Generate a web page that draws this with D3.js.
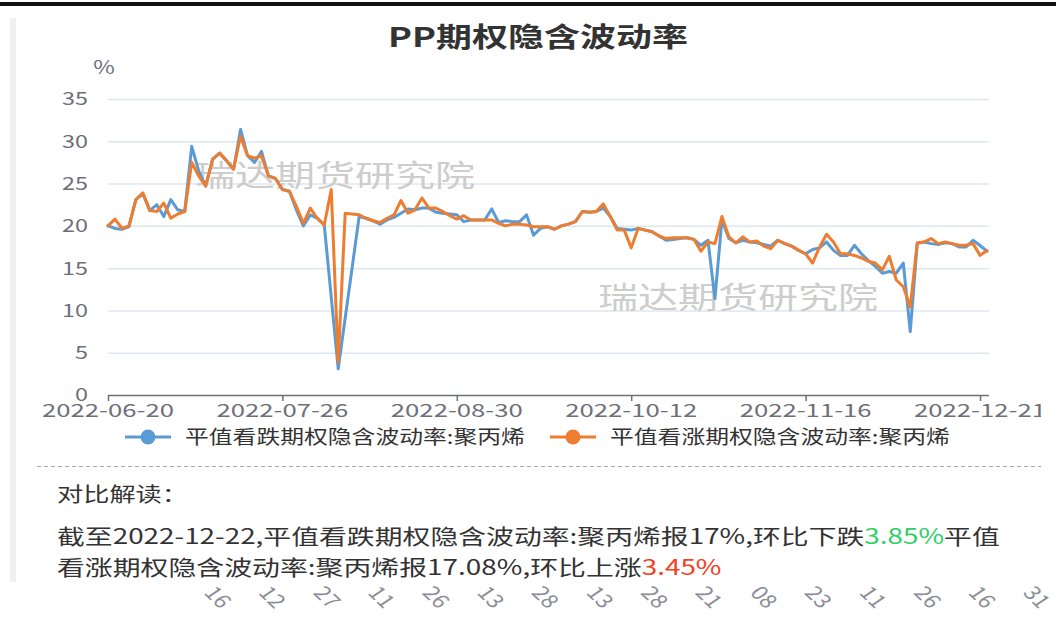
<!DOCTYPE html>
<html>
<head>
<meta charset="utf-8">
<style>
    body { margin: 0; background: #fff; }
    svg { display: block; font-family: "Noto Sans CJK SC", "Noto Sans", sans-serif; }
</style>
</head>
<body>
<svg id="chart" width="1056" height="637"></svg>
<script src="https://cdn.jsdelivr.net/npm/d3@7/dist/d3.min.js"></script>
<script>

var dates = [
    "2022-06-20","2022-06-21","2022-06-22","2022-06-23","2022-06-24","2022-06-27","2022-06-28","2022-06-29","2022-06-30",
    "2022-07-04","2022-07-05","2022-07-06","2022-07-07","2022-07-08","2022-07-11","2022-07-12","2022-07-13","2022-07-14",
    "2022-07-15","2022-07-18","2022-07-19","2022-07-20","2022-07-21","2022-07-22","2022-07-25","2022-07-26","2022-07-27",
    "2022-07-28","2022-07-29","2022-08-01","2022-08-02","2022-08-03","2022-08-04","2022-08-05","2022-08-08","2022-08-09",
    "2022-08-10","2022-08-11","2022-08-12","2022-08-15","2022-08-16","2022-08-17","2022-08-18","2022-08-19","2022-08-22",
    "2022-08-23","2022-08-24","2022-08-25","2022-08-26","2022-08-29","2022-08-30","2022-08-31","2022-09-01","2022-09-02",
    "2022-09-05","2022-09-06","2022-09-07","2022-09-08","2022-09-09","2022-09-13","2022-09-14","2022-09-15","2022-09-16",
    "2022-09-19","2022-09-20","2022-09-21","2022-09-22","2022-09-23","2022-09-26","2022-09-27","2022-09-28","2022-09-29",
    "2022-09-30","2022-10-10","2022-10-11","2022-10-12","2022-10-13","2022-10-14","2022-10-17","2022-10-18","2022-10-19",
    "2022-10-20","2022-10-21","2022-10-24","2022-10-25","2022-10-26","2022-10-27","2022-10-28","2022-10-31","2022-11-01",
    "2022-11-02","2022-11-03","2022-11-04","2022-11-07","2022-11-08","2022-11-09","2022-11-10","2022-11-11","2022-11-14",
    "2022-11-15","2022-11-16","2022-11-17","2022-11-18","2022-11-21","2022-11-22","2022-11-23","2022-11-24","2022-11-25",
    "2022-11-28","2022-11-29","2022-11-30","2022-12-01","2022-12-02","2022-12-05","2022-12-06","2022-12-07","2022-12-08",
    "2022-12-09","2022-12-12","2022-12-13","2022-12-14","2022-12-15","2022-12-16","2022-12-19","2022-12-20","2022-12-21",
    "2022-12-22"
];

// 平值看跌期权隐含波动率:聚丙烯 (null = 缺值, 连线跳过)
var putVol = [
    20.0,19.7,19.6,19.9,23.1,23.8,21.8,22.5,21.1,23.1,
    21.9,21.7,29.4,26.5,24.7,27.9,28.6,27.7,26.7,31.4,
    28.3,27.5,28.8,25.9,25.6,24.3,24.1,21.9,20.0,21.3,
    20.9,20.1,null,3.1,null,null,21.1,20.9,20.6,20.2,
    20.7,21.0,21.5,22.0,21.9,22.1,22.1,21.6,21.5,21.4,
    21.3,20.5,20.7,20.7,20.7,22.0,20.4,20.6,20.5,20.5,
    21.3,18.9,19.7,19.9,19.6,20.0,20.2,20.5,21.7,21.6,
    21.7,22.1,21.1,19.7,19.6,19.5,19.7,19.5,19.3,18.8,
    18.3,18.4,18.5,18.6,18.4,17.7,18.3,11.4,20.7,18.5,
    18.0,18.3,18.1,18.0,17.8,17.6,18.3,17.9,17.6,17.1,
    16.7,17.2,17.4,18.1,17.1,16.5,16.5,17.7,16.7,15.9,
    15.2,14.4,14.6,14.4,15.6,7.5,17.9,18.1,17.9,17.8,
    18.0,17.9,17.5,17.5,18.3,17.68,17.0
];

// 平值看涨期权隐含波动率:聚丙烯
var callVol = [
    20.0,20.8,19.7,20.0,23.1,23.9,21.8,21.7,22.7,20.9,
    21.4,21.7,27.5,25.9,24.7,27.9,28.6,27.7,26.7,30.6,
    28.3,28.0,28.3,25.9,25.6,24.3,24.1,22.3,20.3,22.1,
    20.9,20.1,24.3,3.9,21.5,21.4,21.3,20.9,20.6,20.4,
    20.9,21.3,23.0,21.5,21.9,23.3,22.1,22.1,21.7,21.2,
    20.8,21.2,20.7,20.7,20.7,20.7,20.3,20.0,20.2,20.2,
    20.1,19.9,19.9,19.9,19.6,20.0,20.2,20.5,21.7,21.6,
    21.7,22.6,21.1,19.5,19.5,17.4,19.7,19.5,19.3,18.8,
    18.5,18.6,18.6,18.6,18.4,17.0,18.1,17.9,21.1,18.7,
    18.0,18.7,18.1,18.2,17.6,17.3,18.3,17.9,17.6,17.1,
    16.7,15.6,17.5,19.0,18.1,16.7,16.7,16.5,16.2,15.8,
    15.6,14.8,16.4,13.6,12.8,10.4,18.0,18.1,18.5,17.9,
    18.1,17.9,17.7,17.7,17.9,16.51,17.08
];

var yTicks = [0, 5, 10, 15, 20, 25, 30, 35];
var xTickDates = ["2022-06-20", "2022-07-26", "2022-08-30", "2022-10-12", "2022-11-16", "2022-12-21"];
var seriesNames = ["平值看跌期权隐含波动率:聚丙烯", "平值看涨期权隐含波动率:聚丙烯"];
var seriesColors = ["#5b9bd5", "#ed7d31"];
var strayLabels = ["16","12","27","11","26","13","28","13","28","21","08","23","11","26","16","31"];

var svg = d3.select("#chart");
var grey = "#6e7079";

// text drawn wider than the font, like the reference picture
function wideText(parent, parts, x, y, o) {
    if (typeof parts === "string") parts = [[parts, o.color || "#333"]];
    var t = parent.append("text")
        .attr("text-anchor", o.anchor || "start")
        .attr("font-size", o.size)
        .attr("font-weight", o.weight || "normal")
        .attr("dy", "0.36em");
    parts.forEach(function (p) {
        t.append("tspan").attr("fill", p[1]).text(p[0]);
    });
    var k = o.width ? o.width / t.node().getComputedTextLength() : (o.sx || 1.3);
    t.attr("transform", "translate(" + x + "," + y + ") scale(" + k + ",1)" + (o.rotate ? " rotate(" + o.rotate + ")" : ""));
    return t;
}

var defs = svg.append("defs");
defs.append("clipPath").attr("id", "card").append("rect")
    .attr("x", 0).attr("y", 0).attr("width", 1041).attr("height", 582);
defs.append("clipPath").attr("id", "below").append("rect")
    .attr("x", 0).attr("y", 583).attr("width", 1056).attr("height", 60);

// stray rotated labels of something under the card
var stray = svg.append("g").attr("clip-path", "url(#below)");
strayLabels.forEach(function (s, i) {
    wideText(stray, s, 218 + i * 54.6, 597, {size: 19, color: "#8a8d96", anchor: "middle", sx: 1.25, rotate: 50});
});

// top rule and card edge
svg.append("rect").attr("x", 0).attr("y", 2).attr("width", 1056).attr("height", 4).attr("fill", "#111");
svg.append("rect").attr("x", 10).attr("y", 18).attr("width", 6).attr("height", 564).attr("fill", "#f0f0f0");

var g = svg.append("g").attr("clip-path", "url(#card)");

var x = d3.scalePoint().domain(dates).range([108, 987]);
var y = d3.scaleLinear().domain([0, 35]).range([395, 99]);

// grid
g.append("g").selectAll("line").data(yTicks.slice(1)).enter().append("line")
    .attr("x1", 108).attr("x2", 989)
    .attr("y1", function (d) { return y(d) + 0.5; })
    .attr("y2", function (d) { return y(d) + 0.5; })
    .attr("stroke", "#e0e6f1").attr("stroke-width", 1.5);

// watermarks
wideText(g, "瑞达期货研究院", 335, 175, {size: 30, color: "#c8c8c8", anchor: "middle", width: 280}).attr("opacity", 0.9);
wideText(g, "瑞达期货研究院", 738, 297, {size: 30, color: "#c8c8c8", anchor: "middle", width: 280}).attr("opacity", 0.9);

// x axis
var xAxis = g.append("g").attr("transform", "translate(0," + y(0) + ")")
    .call(d3.axisBottom(x).tickValues(xTickDates).tickSize(6).tickSizeOuter(0).tickFormat(""));
xAxis.select(".domain").attr("stroke", grey).attr("stroke-width", 1.5).attr("d", "M108,0.5H989");
xAxis.selectAll(".tick line").attr("stroke", grey).attr("stroke-width", 1.5);
xTickDates.forEach(function (d) {
    wideText(g, d, x(d), 411, {size: 18, color: grey, anchor: "middle", width: 132});
});

// y labels
var ySx = 1.3;
yTicks.forEach(function (d) {
    wideText(g, String(d), 88, y(d), {size: 18, color: grey, anchor: "end", sx: ySx});
});
wideText(g, "%", 104, 68, {size: 18, color: grey, anchor: "middle", sx: ySx});

// title
wideText(g, "PP期权隐含波动率", 538, 37, {size: 27, weight: "bold", color: "#333", anchor: "middle", width: 300});

// lines
[putVol, callVol].forEach(function (vals, si) {
    var pts = dates.map(function (d, i) { return [d, vals[i]]; })
        .filter(function (p) { return p[1] !== null; });
    g.append("path")
        .datum(pts)
        .attr("fill", "none")
        .attr("stroke", seriesColors[si])
        .attr("stroke-width", 3)
        .attr("stroke-linejoin", "round")
        .attr("stroke-linecap", "round")
        .attr("d", d3.line().x(function (p) { return x(p[0]); }).y(function (p) { return y(p[1]); }));
});

// legend
var legendX = [125, 550];
seriesNames.forEach(function (name, i) {
    var lg = g.append("g").attr("transform", "translate(" + legendX[i] + ",437)");
    lg.append("line").attr("x1", 0).attr("x2", 46).attr("stroke", seriesColors[i]).attr("stroke-width", 3);
    lg.append("circle").attr("cx", 23).attr("r", 7.5).attr("fill", seriesColors[i]);
    wideText(lg, name, 60, 0, {size: 19, color: "#333", width: 340});
});

// divider
g.append("line").attr("x1", 37).attr("x2", 1041).attr("y1", 466.5).attr("y2", 466.5)
    .attr("stroke", "#aaa").attr("stroke-dasharray", "4,3");

// commentary
wideText(g, "对比解读：", 57, 495, {size: 20, color: "#333", width: 131});
wideText(g, [
    ["截至2022-12-22,平值看跌期权隐含波动率:聚丙烯报17%,环比下跌", "#333"],
    ["3.85%", "#2fcf66"],
    ["平值", "#333"]
], 57, 536, {size: 21, width: 943});
wideText(g, [
    ["看涨期权隐含波动率:聚丙烯报17.08%,环比上涨", "#333"],
    ["3.45%", "#f5401f"]
], 57, 567, {size: 21, width: 665});

</script>
</body>
</html>
